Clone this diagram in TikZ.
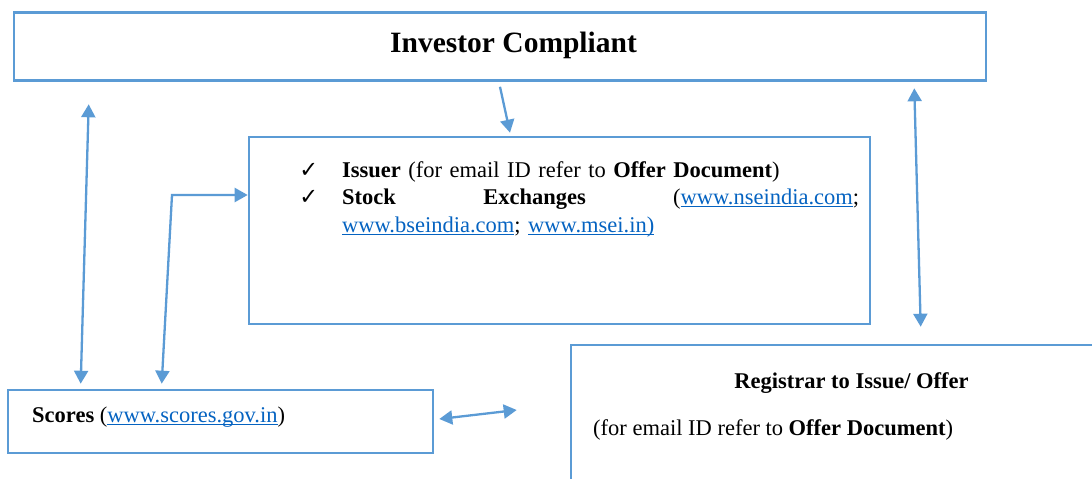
\documentclass[tikz,border=0pt]{standalone}
\usepackage{fontspec}
\setmainfont{Liberation Serif}
\newfontfamily\tickfont{DejaVu Sans}
\usetikzlibrary{arrows.meta}
\definecolor{boxblue}{HTML}{5B9BD5}
\definecolor{linkblue}{HTML}{0563C1}
\newcommand{\weblink}[1]{\textcolor{linkblue}{\setbox0\hbox{#1}\rlap{\rule[-2.8pt]{\wd0}{1.3pt}}\box0}}
\newcommand{\tick}{\leavevmode\llap{{\tickfont ✓}\hspace{24pt}}}

\begin{document}
\begin{tikzpicture}[x=1pt,y=-1pt,
        box/.style={draw=boxblue,line width=2.6pt,rectangle,inner sep=0pt},
        link/.style={color=boxblue,line width=2.3pt,-{Triangle[length=13pt,width=14pt]}},
        dlink/.style={link,{Triangle[length=13pt,width=14pt]}-{Triangle[length=13pt,width=14pt]}},
        txt/.style={inner sep=0pt,font=\fontsize{22.5}{27.5}\selectfont}]
        \useasboundingbox (0,0) rectangle (1092,479);
        % boxes
        \node[box,minimum width=972pt,minimum height=68pt] (investor) at (500,46.5) {};
        \node[box,minimum width=621pt,minimum height=187pt] (issuer) at (559.5,230.5) {};
        \node[box,minimum width=425pt,minimum height=63pt] (scores) at (220.5,421.5) {};
        \node[box,minimum width=564pt,minimum height=200pt] (registrar) at (853,445) {};
        % texts
        \node[txt,anchor=base west,font=\bfseries\fontsize{29.5}{35}\selectfont] (title) at (390,52) {Investor Compliant};
        \node[txt,anchor=base west,text width=517pt,align=left] (issuerText) at (342,177) {%
            \tick\textbf{Issuer} (for email ID refer to \textbf{Offer Document})\\
            \tick\textbf{Stock}\hfill\textbf{Exchanges}\hfill(\weblink{www.nseindia.com};\\
            \weblink{www.bseindia.com}; \weblink{www.msei.in)}};
        \node[txt,anchor=base west] (scoresText) at (32,422) {\textbf{Scores} (\weblink{www.scores.gov.in})};
        \node[txt,anchor=base,font=\bfseries\fontsize{22.5}{27}\selectfont] (registrarTitle) at (851.5,388) {Registrar to Issue/ Offer};
        \node[txt,anchor=base west] (registrarText) at (593,435) {(for email ID refer to \textbf{Offer Document})};
        % connectors
        \coordinate (bend) at (172,195);
        \draw[link] ([yshift=-5pt]investor.south) -- ([xshift=-49.5pt,yshift=3pt]issuer.north);
        \draw[dlink] ([xshift=76pt,yshift=-22.5pt]investor.south west) -- ([xshift=74pt,yshift=5pt]scores.north west);
        \draw[dlink] ([xshift=155pt,yshift=5pt]scores.north west) -- (bend) -- (bend -| issuer.west);
        \draw[dlink] ([xshift=-73pt,yshift=-6.5pt]investor.south east) -- ([xshift=351pt,yshift=17pt]registrar.north west);
        \draw[dlink] ([xshift=5pt,yshift=2.5pt]scores.east) -- ([xshift=-53pt,yshift=35pt]registrar.west);
\end{tikzpicture}
\end{document}
